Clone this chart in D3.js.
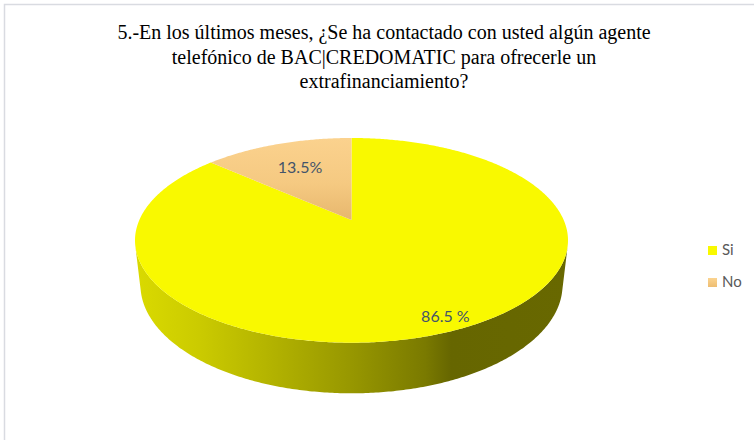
<!DOCTYPE html>
<html>
<head>
<meta charset="utf-8">
<script src="https://cdn.jsdelivr.net/npm/d3@7"></script>
<style>
  html, body { margin: 0; padding: 0; background: #fff; }
  svg { display: block; }
</style>
</head>
<body>
<svg id="chart" width="754" height="440"></svg>
<script>
// ---- data ----
const categories = ["Si", "No"];
const values = [86.5, 13.5];
const labelSuffix = [" %", "%"];
const titleLines = [
  "5.-En los últimos meses, ¿Se ha contactado con usted algún agente",
  "telefónico de BAC|CREDOMATIC para ofrecerle un",
  "extrafinanciamiento?"
];

// ---- layout ----
const W = 754, H = 440;
const svg = d3.select("#chart");
const defs = svg.append("defs");

// frame
svg.append("rect")
  .attr("x", 4.5).attr("y", 4.5)
  .attr("width", W + 10).attr("height", H + 10)
  .attr("fill", "#fff")
  .attr("stroke", "#d9dbe1").attr("stroke-width", 1.5);

// title
svg.append("g")
  .selectAll("text")
  .data(titleLines)
  .join("text")
  .attr("x", 384)
  .attr("y", (d, i) => 39 + i * 24.5)
  .attr("text-anchor", "middle")
  .attr("font-family", "'Liberation Serif', 'Times New Roman', serif")
  .attr("font-size", 20)
  .attr("fill", "#000")
  .text(d => d);

// ---- perspective camera for the tilted disc ----
// Derived from the on-screen footprint of the disc: centre, far/near rim,
// widest half-width and the near edge of the base.
const cam = (() => {
  const cx = 351.5, cy = 220, farY = 138, nearY = 342.7, halfW = 216.5, baseNearY = 393.3;
  const up = cy - farY, down = nearY - cy;
  const k = (down - up) / (down + up);          // R·cos(e) / D
  const FRoverD = halfW * Math.sqrt(1 - k * k);
  const sinE = up * (1 + k) / FRoverD;
  const cosE = Math.sqrt(1 - sinE * sinE);
  const D = 1, R = k * D / cosE, F = FRoverD * D / R;
  const t = baseNearY - cy;
  const h = (F * R * sinE - t * (D - R * cosE)) / (t * sinE - F * cosE);
  const project = (theta, r, z) => {
    const X = r * R * Math.sin(theta), Y = r * R * Math.cos(theta), Z = z;
    const v = Y * sinE + Z * cosE;
    const w = D + Y * cosE - Z * sinE;
    return [cx + F * X / w, cy - F * v / w];
  };
  // side silhouette angles of the cylinder wall
  const sil = Math.acos(-R / (D * cosE));
  return { project, h, sil };
})();

// ---- pie layout ----
const pie = d3.pie().sort(null).value(d => d).startAngle(0).endAngle(2 * Math.PI);
const arcs = pie(values);

// colours
const topFill = ["#f9f900", "url(#noTop)"];
const sideFill = ["url(#siSide)", "url(#noSide)"];

const gSi = defs.append("linearGradient").attr("id", "siSide")
  .attr("gradientUnits", "userSpaceOnUse")
  .attr("x1", 135).attr("x2", 568).attr("y1", 0).attr("y2", 0);
[[0, "#dada00"], [0.14, "#cccc00"], [0.32, "#b2b200"], [0.5, "#979700"],
 [0.67, "#7a7a00"], [0.73, "#666600"], [1, "#686800"]]
  .forEach(([o, c]) => gSi.append("stop").attr("offset", o).attr("stop-color", c));

const gNo = defs.append("linearGradient").attr("id", "noTop")
  .attr("gradientUnits", "userSpaceOnUse")
  .attr("x1", 0).attr("x2", 0).attr("y1", 138).attr("y2", 222);
gNo.append("stop").attr("offset", 0).attr("stop-color", "#fbd28e");
gNo.append("stop").attr("offset", 0.55).attr("stop-color", "#f5c981");
gNo.append("stop").attr("offset", 1).attr("stop-color", "#e6b66c");

const gNoSide = defs.append("linearGradient").attr("id", "noSide")
  .attr("x1", 0).attr("x2", 1).attr("y1", 0).attr("y2", 0);
gNoSide.append("stop").attr("offset", 0).attr("stop-color", "#d9ac62");
gNoSide.append("stop").attr("offset", 1).attr("stop-color", "#8a6a38");

const gLegNo = defs.append("linearGradient").attr("id", "noLegend")
  .attr("x1", 0).attr("x2", 0).attr("y1", 0).attr("y2", 1);
gLegNo.append("stop").attr("offset", 0).attr("stop-color", "#fbd490");
gLegNo.append("stop").attr("offset", 1).attr("stop-color", "#eebd72");

const steps = (a0, a1) => {
  const n = Math.max(2, Math.ceil((a1 - a0) / 0.01));
  return d3.range(n + 1).map(i => a0 + (a1 - a0) * i / n);
};
const line = d3.line();

const plot = svg.append("g");

// side walls (only the part facing the viewer)
arcs.forEach((a, i) => {
  const s0 = Math.max(a.startAngle, cam.sil);
  const s1 = Math.min(a.endAngle, 2 * Math.PI - cam.sil);
  if (s1 <= s0) return;
  const ang = steps(s0, s1);
  const pts = ang.map(t => cam.project(t, 1, 0))
    .concat(ang.slice().reverse().map(t => cam.project(t, 1, -cam.h)));
  plot.append("path")
    .attr("d", line(pts) + "Z")
    .attr("fill", sideFill[i]);
});

// top faces
arcs.forEach((a, i) => {
  const pts = [cam.project(0, 0, 0)]
    .concat(steps(a.startAngle, a.endAngle).map(t => cam.project(t, 1, 0)));
  plot.append("path")
    .attr("d", line(pts) + "Z")
    .attr("fill", topFill[i]);
});

// data labels
const labelRadius = [0.9, 0.66];
arcs.forEach((a, i) => {
  const mid = (a.startAngle + a.endAngle) / 2;
  const [x, y] = cam.project(mid, labelRadius[i], 0);
  plot.append("text")
    .attr("x", x).attr("y", y)
    .attr("dy", "0.36em")
    .attr("text-anchor", "middle")
    .attr("font-family", "Lato, 'Open Sans', sans-serif")
    .attr("font-size", 16)
    .attr("fill", "#44546a")
    .text(values[i] + labelSuffix[i]);
});

// legend
const legendFill = ["#f9f900", "url(#noLegend)"];
const legend = svg.append("g")
  .selectAll("g")
  .data(categories)
  .join("g")
  .attr("transform", (d, i) => `translate(708, ${246 + i * 32})`);
legend.append("rect")
  .attr("width", 9).attr("height", 9)
  .attr("fill", (d, i) => legendFill[i]);
legend.append("text")
  .attr("x", 14).attr("y", 9)
  .attr("font-family", "Lato, 'Open Sans', sans-serif")
  .attr("font-size", 15)
  .attr("fill", "#595959")
  .text(d => d);
</script>
</body>
</html>
